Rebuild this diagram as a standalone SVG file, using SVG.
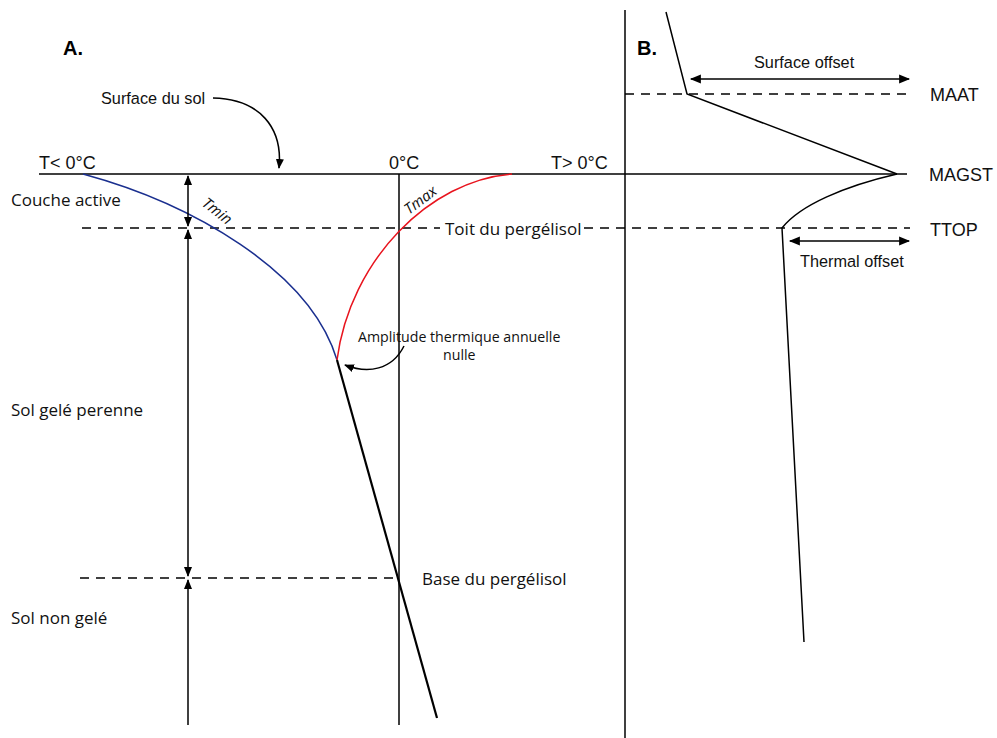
<svg xmlns="http://www.w3.org/2000/svg" width="997" height="738" viewBox="0 0 997 738">
<style>
.ln{stroke:#000;stroke-width:1.5;fill:none}
.dash{stroke:#000;stroke-width:1.3;fill:none;stroke-dasharray:9,7}
.ar{font-family:"Liberation Sans",Arial,sans-serif;font-size:16.3px;fill:#111}
.big{font-size:18px}
.cal{font-family:"Open Sans","Noto Sans",sans-serif;font-size:17px;fill:#111}
.sm{font-size:14.2px}
.it{font-size:15px;font-style:italic}
.bold{font-family:"Liberation Sans",Arial,sans-serif;font-size:20px;font-weight:bold;fill:#000}
</style>
<defs>
<marker id="ah" viewBox="0 0 10 10" refX="9" refY="5" markerWidth="10" markerHeight="10" markerUnits="userSpaceOnUse" orient="auto-start-reverse">
<path d="M0,1 L10,5 L0,9 z" fill="#000"/>
</marker>
<marker id="ahb" viewBox="0 0 10 10" refX="9" refY="5" markerWidth="13" markerHeight="11" markerUnits="userSpaceOnUse" orient="auto-start-reverse">
<path d="M0,1 L10,5 L0,9 z" fill="#000"/>
</marker>
</defs>
<rect width="997" height="738" fill="#fff"/>

<g id="axes">
<line class="ln" x1="39" y1="174" x2="907" y2="174"/>
<line class="ln" x1="625" y1="10" x2="625" y2="738"/>
<line class="ln" x1="399" y1="174" x2="399" y2="725"/>
<line class="dash" x1="82" y1="228" x2="440" y2="228"/>
<line class="dash" x1="584" y1="228" x2="910" y2="228"/>
<line class="dash" x1="80" y1="578" x2="399" y2="578"/>
<line class="dash" x1="625" y1="94" x2="910" y2="94"/>
</g>

<g id="panel-a-curves">
<path d="M83,174 C190,203 310,270 337,360" stroke="#1a2f8f" stroke-width="1.5" fill="none"/>
<path d="M512,174 C430,180 350,260 337,360" stroke="#e8141e" stroke-width="1.5" fill="none"/>
<line x1="337" y1="360" x2="437" y2="718" stroke="#000" stroke-width="2.2"/>
<text class="cal it" transform="translate(201,205) rotate(38)">Tmin</text>
<text class="cal it" transform="translate(409,215) rotate(-37)">Tmax</text>
</g>

<g id="connectors">
<line class="ln" x1="188" y1="176" x2="188" y2="226" marker-start="url(#ah)" marker-end="url(#ah)"/>
<line class="ln" x1="188" y1="230" x2="188" y2="576" marker-start="url(#ah)" marker-end="url(#ah)"/>
<line class="ln" x1="188" y1="580" x2="188" y2="725" marker-start="url(#ah)"/>
<path class="ln" d="M213,98 C260,99 283,128 279,168" marker-end="url(#ah)"/>
<path class="ln" d="M404,346 C392,370 368,374 345,365" marker-end="url(#ah)"/>
<line class="ln" x1="691" y1="79" x2="909" y2="79" marker-start="url(#ahb)" marker-end="url(#ahb)"/>
<line class="ln" x1="790" y1="241" x2="909" y2="241" marker-start="url(#ahb)" marker-end="url(#ahb)"/>
</g>

<g id="panel-b-profile">
<polyline class="ln" points="666,12 687,94 897,174"/>
<path class="ln" d="M897,174 C845,186 800,205 782,228 L804,642"/>
</g>

<g id="labels">
<text class="bold" x="63" y="55">A.</text>
<text class="bold" x="637" y="55">B.</text>
<text class="ar" x="101" y="104">Surface du sol</text>
<text class="ar big" x="39" y="169">T&lt; 0°C</text>
<text class="ar big" x="389" y="169">0°C</text>
<text class="ar big" x="551" y="169">T&gt; 0°C</text>
<text class="cal" x="11" y="206">Couche active</text>
<text class="cal" x="445" y="235">Toit du pergélisol</text>
<text class="cal" x="11" y="416">Sol gelé perenne</text>
<text class="cal" x="11" y="624">Sol non gelé</text>
<text class="cal" x="422" y="585">Base du pergélisol</text>
<text class="cal sm" x="358" y="342">Amplitude thermique annuelle</text>
<text class="cal sm" x="443" y="360">nulle</text>
<text class="ar" x="754" y="68">Surface offset</text>
<text class="ar big" x="930" y="101">MAAT</text>
<text class="ar big" x="929" y="181">MAGST</text>
<text class="ar big" x="930" y="236">TTOP</text>
<text class="ar" x="800" y="267">Thermal offset</text>
</g>
</svg>
